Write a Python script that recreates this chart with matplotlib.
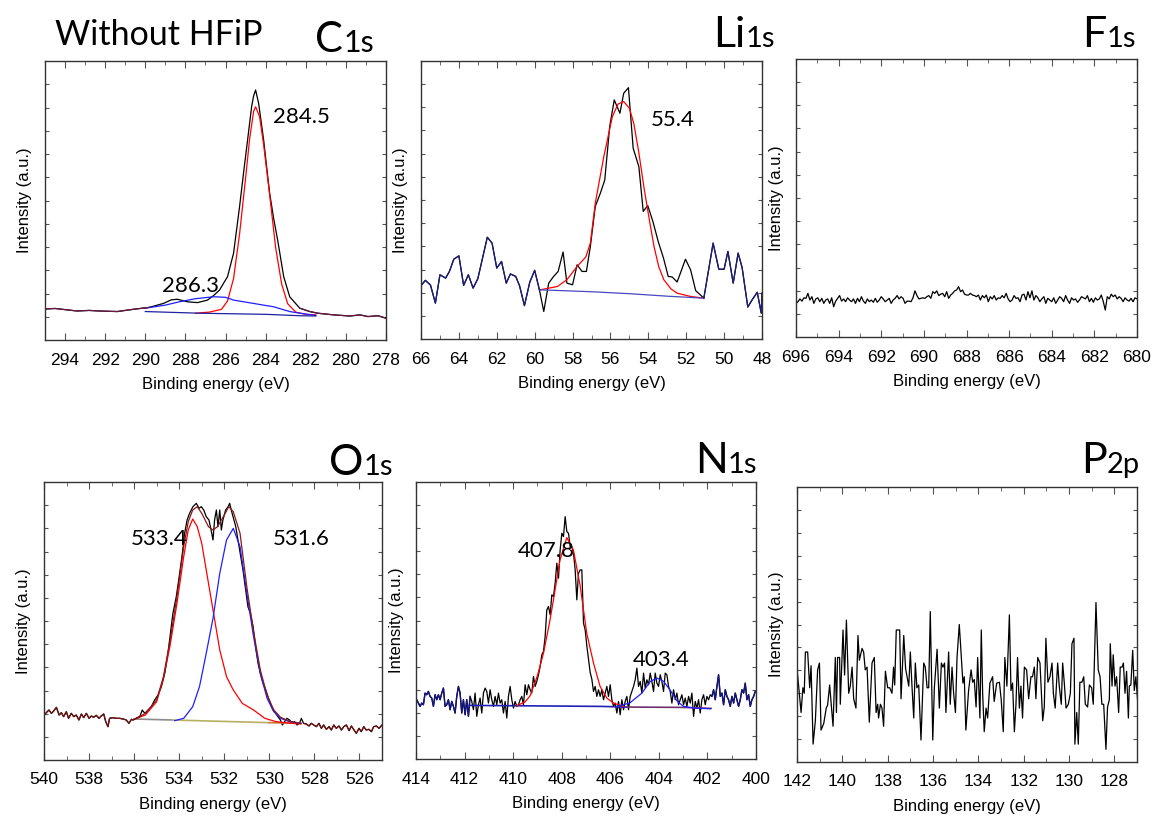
import numpy as np
import matplotlib
matplotlib.use('Agg')
import matplotlib.pyplot as plt
from matplotlib.ticker import MultipleLocator

plt.rcParams['font.family'] = 'Liberation Sans'

# ---------------- C1s ----------------
c_x = [295.0, 294.5, 293.9, 293.4, 292.8, 292.3, 291.4, 290.6, 289.8, 289.1, 288.7, 288.4, 287.9, 287.4,
       286.9, 286.6, 286.3, 285.9, 285.6, 285.3, 285.1, 284.9, 284.7, 284.6, 284.5, 284.35, 284.2, 284.1,
       283.95, 283.8, 283.6, 283.4, 283.1, 282.8, 282.3, 281.8, 281.4, 280.6, 279.8, 279.3, 278.9, 278.4, 278.0]
c_y = [11.1, 11.3, 10.8, 10.4, 10.6, 10.4, 10.2, 11.0, 11.7, 13.1, 14.4, 14.6, 13.7, 13.4,
       14.3, 15.9, 17.9, 22.7, 31.1, 47.8, 60.0, 71.7, 83.6, 87.5, 89.6, 84.8, 77.0, 71.7,
       62.0, 52.6, 43.5, 35.8, 22.7, 15.5, 11.4, 10.2, 9.6, 9.0, 8.6, 9.0, 8.4, 8.7, 7.8]
c_red_x = [287.5, 286.8, 286.2, 285.9, 285.6, 285.3, 285.0, 284.8, 284.6, 284.5, 284.3, 284.1,
           283.8, 283.5, 283.2, 282.9, 282.5, 282.0, 281.5]
c_red_y = [9.6, 10.0, 11.0, 14.0, 22.0, 38.0, 58.0, 72.0, 82.0, 83.6, 80.0, 70.0,
           52.0, 33.0, 20.0, 13.0, 10.0, 9.2, 9.0]
c_blue_x = [290.0, 289.0, 288.3, 287.5, 286.6, 286.0, 285.6, 284.6, 283.6, 282.8, 282.3, 281.5]
c_blue_y = [11.4, 12.5, 13.7, 14.8, 15.5, 15.3, 14.3, 13.1, 11.9, 10.2, 9.6, 8.8]
c_bg_x = [290.0, 287.3, 284.0, 282.3, 281.5]
c_bg_y = [10.2, 9.6, 9.2, 8.7, 8.6]

# ---------------- Li1s ----------------
li_x = [66.0, 65.77, 65.5, 65.24, 65.0, 64.7, 64.5, 64.27, 64.0, 63.75, 63.5, 63.25, 63.0, 62.5, 62.25,
        62.0, 61.75, 61.5, 61.28, 61.0, 60.8, 60.54, 60.26, 60.0, 59.75, 59.52, 59.26, 59.0, 58.76, 58.5,
        58.3, 58.0, 57.76, 57.5, 57.27, 57.06, 56.8, 56.53, 56.3, 56.04, 55.8, 55.5, 55.3, 55.05, 54.8,
        54.5, 54.27, 54.03, 53.76, 53.48, 53.2, 52.95, 52.74, 52.48, 52.04, 51.77, 51.5, 51.07, 50.58,
        50.28, 50.0, 49.8, 49.52, 49.26, 49.05, 48.75, 48.52, 48.25, 48.04, 48.0]
li_y = [19.2, 21.1, 19.4, 12.9, 23.1, 21.9, 24.3, 28.7, 29.9, 19.3, 23.1, 18.3, 21.7, 36.6, 34.5,
        25.5, 27.9, 20.1, 23.4, 22.5, 19.2, 12.0, 20.4, 24.7, 17.7, 9.9, 20.1, 22.5, 24.3, 31.3,
        20.1, 19.5, 26.7, 24.3, 24.3, 33.3, 47.7, 52.5, 57.2, 76.4, 86.0, 81.2, 88.4, 90.4, 68.6,
        62.0, 45.9, 48.0, 42.3, 35.1, 29.1, 22.5, 22.3, 20.5, 28.7, 24.9, 17.4, 14.7, 34.5,
        25.1, 25.1, 31.5, 20.1, 30.9, 25.7, 11.5, 14.1, 16.8, 9.3, 16.5]
li_red_x = [59.7, 58.8, 58.3, 57.76, 57.3, 57.06, 56.8, 56.35, 55.9, 55.6, 55.3, 55.0, 54.77, 54.5,
            54.24, 53.95, 53.7, 53.45, 53.18, 52.8, 52.48, 51.77, 51.07]
li_red_y = [17.7, 18.9, 21.3, 26.1, 29.5, 34.5, 48.9, 65.6, 80.0, 84.5, 85.4, 83.0, 77.6, 67.0,
            54.9, 43.0, 33.3, 26.0, 21.3, 18.0, 16.5, 15.3, 14.7]
li_bg_x = [59.75, 57.0, 55.0, 53.0, 51.07]
li_bg_y = [17.7, 17.0, 16.3, 15.4, 14.7]

# ---------------- F1s ----------------
f_y = [12.1, 12.7, 13.7, 12.9, 14.1, 13.9, 15.7, 13.3, 14.5, 12.1, 13.7, 14.1, 12.7, 13.9, 12.1,
       13.3, 13.7, 12.1, 14.1, 10.9, 12.9, 13.9, 14.9, 12.9, 13.7, 12.7, 14.1, 13.3, 12.7, 13.7,
       12.1, 13.9, 12.7, 14.5, 12.9, 12.1, 13.7, 12.7, 13.3, 12.5, 13.9, 12.5, 13.3, 14.5, 13.7,
       12.7, 13.3, 13.9, 12.1, 13.3, 13.9, 14.9, 13.7, 14.5, 13.9, 12.1, 12.9, 12.9, 12.7, 14.1,
       16.6, 14.9, 13.7, 13.9, 14.1, 13.9, 14.5, 14.9, 13.9, 16.3, 15.7, 16.6, 14.9, 15.4, 15.7,
       14.5, 16.3, 13.9, 15.1, 15.7, 16.6, 16.9, 18.1, 16.3, 16.9, 15.4, 15.1, 15.1,
       15.7, 15.1, 14.9, 14.5, 15.1, 13.3, 14.9, 14.1, 15.1, 12.7, 14.5, 13.7, 14.9, 13.3, 14.1,
       13.9, 14.9, 14.1, 15.7, 13.7, 12.7, 13.3, 14.9, 13.9, 14.1, 12.7, 15.1, 15.4, 13.3, 16.3,
       14.1, 16.6, 13.3, 14.9, 14.1, 12.7, 13.7, 14.5, 12.1, 13.9, 13.3, 12.7, 14.1, 12.1, 13.3,
       14.5, 13.9, 12.7, 14.9, 13.3, 12.1, 14.1, 13.3, 13.7, 12.5, 13.3, 14.5, 14.1, 13.7, 14.9,
       12.7, 13.9, 12.5, 14.1, 13.3, 13.7, 15.1, 12.7, 9.7, 14.5, 13.7, 15.4, 14.5, 15.1, 13.7,
       14.5, 13.9, 12.7, 14.1, 13.3, 12.9, 13.9, 12.7, 14.1, 13.7]

# ---------------- O1s ----------------
o_x = [540.00, 539.90, 539.78, 539.67, 539.57, 539.45, 539.33, 539.23, 539.13, 539.01, 538.91, 538.79,
       538.68, 538.57, 538.45, 538.34, 538.24, 538.12, 538.00, 537.90, 537.80, 537.68, 537.56, 537.46,
       537.35, 537.26, 537.16, 537.09, 536.94, 536.79, 536.64, 536.49, 536.35, 536.23, 536.12, 536.05,
       535.90, 535.75,
       535.64, 535.53, 535.38, 535.24, 535.09, 534.94, 534.79, 534.64, 534.50, 534.39, 534.28, 534.13,
       533.98, 533.86, 533.76, 533.65, 533.54, 533.39, 533.24, 533.12, 533.02, 532.91, 532.80, 532.68,
       532.57, 532.50, 532.43, 532.35, 532.28, 532.20, 532.13, 532.06, 531.94, 531.83, 531.76, 531.69,
       531.61, 531.49, 531.39, 531.29, 531.17, 531.05, 530.95, 530.84, 530.72, 530.61, 530.50, 530.40,
       530.28, 530.16, 530.06, 529.96, 529.84, 529.72, 529.62, 529.51, 529.42, 529.32, 529.22, 529.10,
       528.98, 528.88, 528.77, 528.65, 528.58, 528.48,
       528.36, 528.24, 528.14, 528.03, 527.91, 527.80, 527.69, 527.59, 527.47, 527.35, 527.25, 527.14,
       527.03, 526.91, 526.80, 526.70, 526.58, 526.46, 526.36, 526.26, 526.14, 526.02, 525.92, 525.81,
       525.70, 525.58, 525.47, 525.37, 525.25, 525.13, 525.00]
o_y = [135, 142, 150, 140, 147, 158, 135, 142, 130, 145, 125, 140,
       130, 135, 120, 138, 127, 140, 125, 132, 128, 134, 125, 132,
       138, 115, 100, 125, 127, 125, 125, 123, 120, 110, 122, 120,
       125, 130,
       150, 140, 150, 160, 180, 195, 220, 260, 320, 380, 440, 490,
       560, 620, 680, 720, 740, 760, 770, 755, 760, 750, 730, 720,
       685, 660, 720, 750, 700, 750, 690, 720, 750, 760, 770, 750,
       730, 700, 660, 620, 570, 510, 460, 440, 400, 340, 290, 260,
       230, 210, 190, 170, 150, 140, 130, 120, 105, 115, 125, 120,
       110, 115, 105, 112, 125, 110,
       108, 102, 110, 105, 100, 110, 95, 105, 92, 100, 90, 105,
       95, 102, 90, 100, 105, 88, 102, 92, 80, 95, 85, 100,
       90, 92, 85, 100, 102, 95, 105]
o_env_x = [536.0, 535.5, 535.0, 534.7, 534.4, 534.1, 533.8, 533.6, 533.4, 533.2, 533.0, 532.7, 532.5,
           532.3, 532.0, 531.8, 531.6, 531.3, 531.0, 530.7, 530.4, 530.1, 529.8, 529.5, 529.1, 528.6]
o_env_y = [122, 140, 180, 250, 360, 490, 640, 715, 750, 760, 740, 700, 690,
           700, 735, 760, 745, 680, 520, 385, 270, 195, 150, 128, 116, 110]
o_red_x = [536.0, 535.5, 535.0, 534.7, 534.4, 534.1, 533.8, 533.6, 533.4, 533.2, 533.0, 532.8, 532.5,
           532.2, 531.9, 531.6, 531.2, 530.7, 530.2, 529.7, 529.0, 528.6]
o_red_y = [122, 135, 175, 245, 345, 470, 610, 690, 723, 700, 650, 570, 450,
           330, 250, 210, 170, 150, 125, 115, 110, 108]
o_blue_x = [534.2, 533.8, 533.4, 533.1, 532.8, 532.5, 532.2, 531.9, 531.6, 531.3, 531.0, 530.7, 530.4,
            530.1, 529.8, 529.5, 529.1, 528.6]
o_blue_y = [118, 125, 160, 220, 320, 425, 560, 660, 695, 640, 500, 370, 260,
            185, 145, 125, 115, 110]
o_bg_x = [536.0, 534.3, 530.0, 528.6]
o_bg_y = [123, 120, 112, 110]

# ---------------- N1s ----------------
n_y = [178, 168, 158, 168, 163, 198, 193, 203, 188, 183, 158, 193, 178, 193, 178, 198, 213, 158, 163, 178,
       148, 173, 158, 138, 188, 218, 198, 138, 178, 133, 178, 128, 188,
       173, 148, 198, 128, 163, 183, 138, 198, 213, 203, 168, 208, 178, 158, 188, 163, 198, 168, 178, 138,
       173, 123, 188, 218, 178, 153, 173, 158, 163, 178, 188, 163, 223, 193, 223, 208, 198, 248, 218, 233,
       253, 278, 313, 323, 368, 448, 458, 433, 493, 488, 528, 588, 543, 628, 678, 668, 728, 683, 678, 638,
       638, 618, 568, 478, 558, 568,
       568, 408, 388, 340, 300, 260, 240, 203, 218, 188, 208, 188, 208, 178, 198, 218, 188, 223, 178, 158,
       168, 138, 173, 133, 178, 148, 173, 188, 148, 188, 203, 218, 238, 273, 218, 233, 198, 258, 213, 238,
       223, 258, 233, 203, 258, 228, 218, 253, 233, 203, 258, 253, 218, 203, 168, 208, 178, 198, 163, 178,
       193, 163, 183, 158, 188, 168, 198, 128, 173, 153, 178, 138, 178, 193, 163, 188, 178, 193, 188, 208,
       178, 218, 253, 188, 198, 163, 208, 188, 178, 158, 188, 168, 198, 178, 158, 178, 208, 198, 228, 178,
       193, 158, 178, 188, 203]
n_red_x = [409.85, 409.5, 409.3, 409.0, 408.75, 408.5, 408.34, 408.07, 407.79, 407.52, 407.24, 406.97,
           406.69, 406.42, 406.14, 405.87, 405.46]
n_red_y = [160, 172, 190, 250, 318, 410, 478, 598, 665, 628, 520, 378,
           288, 218, 183, 168, 158]
n_blue_x = [405.73, 405.2, 404.7, 404.35, 404.08, 403.8, 403.5, 403.24, 402.98, 402.57, 401.88]
n_blue_y = [158, 168, 198, 233, 243, 233, 203, 173, 158, 153, 151]
n_bg1_x = [411.8, 406.4, 405.3]
n_bg1_y = [161, 158, 156]
n_bg2_x = [405.3, 403.0, 401.85]
n_bg2_y = [156, 155, 152]

# ---------------- P2p ----------------
p_x = [142.00, 141.82, 141.74, 141.68, 141.63, 141.53, 141.44, 141.38, 141.29, 141.19,
       141.09, 141.01, 140.94, 140.82, 140.71, 140.65, 140.56, 140.41, 140.31, 140.26,
       140.21, 140.12, 140.09, 139.97, 139.90, 139.82, 139.72, 139.65, 139.57, 139.50,
       139.40, 139.31, 139.25, 139.13, 139.06, 138.99, 138.91, 138.81, 138.69, 138.59,
       138.51, 138.44, 138.40, 138.32, 138.25, 138.18, 138.10, 138.00, 137.91, 137.81,
       137.74, 137.69, 137.62, 137.47, 137.41, 137.29, 137.21, 137.07, 137.00, 136.93,
       136.85, 136.78, 136.71, 136.63, 136.53, 136.41, 136.34, 136.26, 136.19, 136.12,
       136.01, 135.94, 135.82, 135.72, 135.63, 135.56, 135.49, 135.43, 135.31, 135.24,
       135.16, 135.09, 135.01, 134.94, 134.84, 134.75, 134.68, 134.62,
       134.55, 134.43, 134.32, 134.25, 134.18, 134.10, 134.03, 133.93, 133.87, 133.81,
       133.74, 133.66, 133.59, 133.49, 133.37, 133.30, 133.19, 133.07, 132.99, 132.90,
       132.83, 132.74, 132.63, 132.56, 132.49, 132.41, 132.34, 132.27, 132.19, 132.12,
       132.05, 131.97, 131.87, 131.78, 131.68, 131.61, 131.53, 131.46, 131.38, 131.28,
       131.16, 131.09, 131.02, 130.93, 130.84, 130.75, 130.69, 130.61, 130.50, 130.43,
       130.34, 130.28, 130.21, 130.13, 130.03, 129.94, 129.87, 129.78, 129.74, 129.66,
       129.59, 129.52, 129.43, 129.35, 129.28, 129.18, 129.10, 129.00, 128.93, 128.81,
       128.71, 128.63, 128.55, 128.47, 128.37, 128.30, 128.22, 128.18, 128.10, 128.05,
       127.97, 127.90, 127.81, 127.74, 127.66, 127.60, 127.53, 127.46, 127.38, 127.34,
       127.27, 127.19, 127.12, 127.05, 126.97]
p_y = [34, 18, 27, 25, 40, 40, 27, 35, 6.5, 15,
       33.5, 36, 11.6, 14, 19.6, 20.7, 28, 13, 38, 18,
       38, 38, 21, 48, 31.6, 51.6, 25, 27.6, 34.5, 23,
       19.6, 46, 37, 41.3, 40, 33.5, 34.5, 14.5, 36, 38,
       18, 21, 16, 21, 19.6, 13, 33, 27, 27, 25,
       34.5, 28, 48, 48, 23, 46, 34, 27.6, 40, 28,
       16, 36, 27, 28, 8, 36, 34.5, 27, 27, 54.7,
       8, 27, 41, 19.6, 36, 34.5, 36, 18, 40, 21,
       34.5, 25, 18, 38, 50, 38, 28.7, 31,
       11.6, 26, 33.5, 29, 30, 20, 38, 16, 48, 25,
       11, 19.6, 16, 28.7, 31, 22, 28.7, 29, 22.6, 11,
       38, 27.6, 53.5, 26, 28.7, 11, 21, 38, 19.6, 27.6,
       16, 34.5, 33.5, 23, 31, 31, 34.5, 23, 38, 36,
       15, 20, 45, 29, 31, 36, 25, 19.6, 36, 27.6,
       21, 36, 29, 19.6, 21, 25, 43, 45, 6.5, 18,
       6.5, 29, 29, 31, 21, 20, 28, 27, 21, 58,
       33.5, 31, 21, 21, 4.6, 20, 22.6, 43, 27.6, 39,
       27.6, 31, 18, 34.5, 34.5, 36, 25, 33, 16, 27.6,
       28, 40.6, 26, 31, 22]

W, H = 1153, 819
fig = plt.figure(figsize=(W / 100, H / 100), dpi=100)


def make_axes(l, t, r, b, xlim, ylim):
    ax = fig.add_axes([l / W, 1 - b / H, (r - l) / W, (b - t) / H])
    ax.set_xlim(*xlim)
    ax.set_ylim(*ylim)
    ax.xaxis.set_major_locator(MultipleLocator(2))
    ax.xaxis.set_minor_locator(MultipleLocator(1))
    ax.set_yticks(np.linspace(ylim[0], ylim[1], 13)[1:-1])
    ax.tick_params(which='both', direction='in', top=True, right=True, labelleft=False,
                   color='#555555')
    ax.tick_params(axis='x', which='major', length=5, labelsize=12.5, pad=9)
    ax.tick_params(axis='x', which='minor', length=3)
    ax.tick_params(axis='y', length=3)
    for s in ax.spines.values():
        s.set_color('#333333')
        s.set_linewidth(1.0)
    ax.set_xlabel('Binding energy (eV)', fontsize=12, labelpad=7)
    ax.set_ylabel('Intensity (a.u.)', fontsize=12, labelpad=9)
    return ax


def note(ax, x, y, s):
    ax.text(x, y, s, fontsize=16, family='Lato', ha='left', va='baseline')


lw = 0.9

# C1s
ax = make_axes(45, 61, 386, 340, (295, 278), (0, 100))
cx, cy = np.array(c_x), np.array(c_y)
ax.plot(cx, cy, color='black', lw=lw)
ax.plot(c_red_x, c_red_y, color='#ff0000', lw=lw)
ax.plot(c_blue_x, c_blue_y, color='#1f1fff', lw=lw)
ax.plot(c_bg_x, c_bg_y, color='#2020a0', lw=lw)
ax.plot(cx[cx >= 289.8], cy[cx >= 289.8], color='#6a1845', lw=lw)
ax.plot(cx[cx <= 282.3], cy[cx <= 282.3], color='#6a1845', lw=lw)
note(ax, 283.62, 77.7, '284.5')
note(ax, 289.18, 17.3, '286.3')

# Li1s
ax = make_axes(421, 61, 762, 339, (66, 48), (0, 100))
lx, ly = np.array(li_x), np.array(li_y)
ax.plot(lx, ly, color='black', lw=lw)
ax.plot(li_red_x, li_red_y, color='#ff0000', lw=lw)
ax.plot(li_bg_x, li_bg_y, color='#4848c0', lw=lw)
ax.plot(lx[lx >= 59.75], ly[lx >= 59.75], color='#1c1c80', lw=lw)
ax.plot(lx[lx <= 51.07], ly[lx <= 51.07], color='#1c1c80', lw=lw)
note(ax, 53.87, 76.7, '55.4')

# F1s
ax = make_axes(796, 59, 1137, 337, (696, 680), (0, 100))
f_x = np.linspace(696, 680, len(f_y))
ax.plot(f_x, f_y, color='black', lw=lw)

# O1s
ax = make_axes(44, 482, 382, 760, (540, 525), (0, 834))
ox, oy = np.array(o_x), np.array(o_y)
ax.plot(ox, oy, color='black', lw=lw)
ax.plot(o_bg_x[:2], o_bg_y[:2], color='#8c8c8c', lw=1.2)
ax.plot(o_bg_x[1:3], o_bg_y[1:3], color='#b8b060', lw=1.2)
ax.plot(o_bg_x[2:], o_bg_y[2:], color='#c8783c', lw=1.2)
ax.plot(o_red_x, o_red_y, color='#ff0000', lw=lw)
ax.plot(o_blue_x, o_blue_y, color='#1f1fff', lw=lw)
ax.plot(o_env_x, o_env_y, color='#8b1a1a', lw=lw)
ax.plot(ox[ox >= 535.75], oy[ox >= 535.75], color='#701010', lw=lw)
ax.plot(ox[ox <= 528.48], oy[ox <= 528.48], color='#701010', lw=lw)
note(ax, 536.15, 646, '533.4')
note(ax, 529.85, 646, '531.6')

# N1s
ax = make_axes(416, 482, 756, 759, (414, 400), (0, 832))
nx = np.linspace(413.97, 400.03, len(n_y))
ny = np.array(n_y)
ax.plot(nx, ny, color='black', lw=lw)
ax.plot(n_bg1_x, n_bg1_y, color='#2020b8', lw=1.2)
ax.plot(n_bg2_x, n_bg2_y, color='#703070', lw=1.2)
ax.plot(n_red_x, n_red_y, color='#ff0000', lw=lw)
ax.plot(n_blue_x, n_blue_y, color='#1f1fff', lw=lw)
ax.plot(nx[nx >= 411.75], ny[nx >= 411.75], color='#141480', lw=1.0)
ax.plot(nx[nx <= 401.85], ny[nx <= 401.85], color='#141480', lw=1.0)
note(ax, 409.81, 608, '407.8')
note(ax, 405.09, 278, '403.4')

# P2p
ax = make_axes(797, 487, 1137, 762, (142, 127), (0, 100))
ax.plot(p_x, p_y, color='black', lw=lw)

# panel titles: big element letter + smaller orbital, sharing the baseline
renderer = fig.canvas.get_renderer()


def panel_title(right, base, big, small, big_size, small_size):
    t = fig.text(right / W, 1 - base / H, small, ha='right', va='baseline',
                 fontsize=small_size, family='Lato')
    bb = t.get_window_extent(renderer)
    fig.text(bb.x0 / W, 1 - base / H, big, ha='right', va='baseline',
             fontsize=big_size, family='Lato')


panel_title(374, 52, 'C', '1s', 30, 22)
panel_title(775, 47, 'Li', '1s', 31, 21)
panel_title(1136, 47, 'F', '1s', 31, 21)
panel_title(393, 475, 'O', '1s', 31, 21)
panel_title(757, 473, 'N', '1s', 31, 21)
panel_title(1140, 473, 'P', '2p', 31, 21)

fig.text(55 / W, 1 - 45 / H, 'Without HFiP', ha='left', va='baseline', fontsize=24.5, family='Lato')

fig.savefig('out.png', dpi=100)
